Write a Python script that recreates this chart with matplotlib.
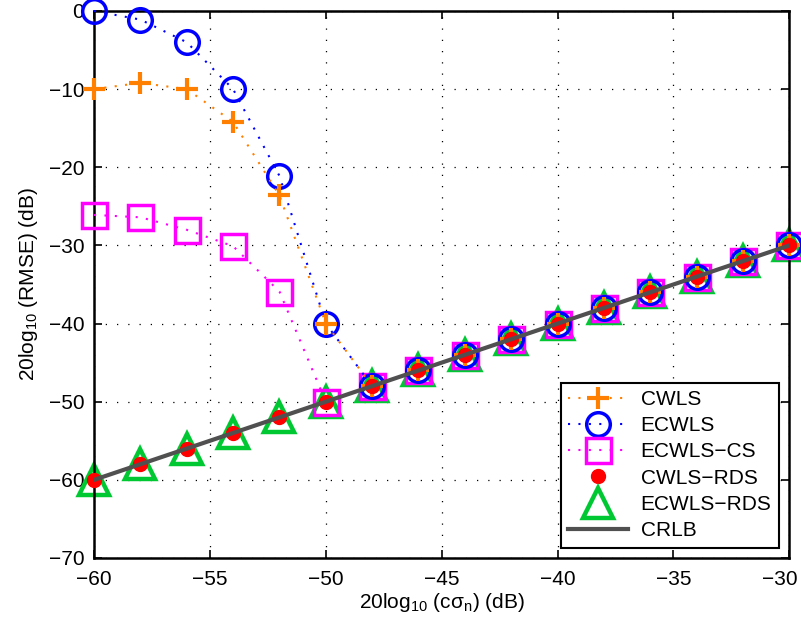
import numpy as np
import matplotlib
matplotlib.use("Agg")
import matplotlib.pyplot as plt
import matplotlib.transforms as mtransforms

plt.rcParams['font.family'] = ['Liberation Sans', 'DejaVu Sans']
plt.rcParams['mathtext.default'] = 'regular'
plt.rcParams['font.size'] = 15

# data
snr = np.arange(-60, -29, 2)
cwls = [-10, -9.2, -10, -14.2, -23.6, -40, -48, -46, -44, -42, -40, -38, -36, -34, -32, -30]
ecwls = [0, -1.1, -4.0, -10, -21.1, -40, -48, -46, -44, -42, -40, -38, -36, -34, -32, -30]
ecwls_cs = [-26.1, -26.4, -28.0, -30.1, -35.9, -50, -48, -46, -44, -42, -40, -38, -36, -34, -32, -30]
cwls_rds = [-60, -58, -56, -54, -52, -50, -48, -46, -44, -42, -40, -38, -36, -34, -32, -30]
ecwls_rds = [-60, -58, -56, -54, -52, -50, -48, -46, -44, -42, -40, -38, -36, -34, -32, -30]
crlb = [-60, -58, -56, -54, -52, -50, -48, -46, -44, -42, -40, -38, -36, -34, -32, -30]

fig = plt.figure(figsize=(8.01, 6.28), dpi=100)
ax = fig.add_axes([0.1174, 0.1115, 0.868, 0.871])

dot = (0, (1, 4))
orange = '#FF8000'
ax.plot(snr, ecwls_rds, linestyle='none', marker='^', ms=21, color='#00C832',
        mfc='none', mew=3.2, label='ECWLS−RDS', zorder=2, clip_on=False)
ax.plot(snr, ecwls_cs, linestyle=dot, lw=1.5, marker='s', ms=18, color='#FF00FF',
        mfc='none', mew=2.5, label='ECWLS−CS', zorder=3, clip_on=False)
ax.plot(snr, ecwls, linestyle=dot, lw=1.5, marker='o', ms=17, color='#0000FF',
        mfc='none', mew=2.5, label='ECWLS', zorder=4, clip_on=False)
ax.plot(snr, cwls, linestyle=dot, lw=1.5, marker='+', ms=16, color=orange,
        mew=3, label='CWLS', zorder=5, clip_on=False)
ax.plot(snr, cwls_rds, linestyle='none', marker='o', ms=10, color='#FF0000',
        label='CWLS−RDS', zorder=6, clip_on=False)
ax.plot(snr, crlb, linestyle='-', lw=3, color='#505050', label='CRLB', zorder=7)

ax.set_xlim(-60, -30)
ax.set_ylim(-70, 0)
ax.set_xticks(np.arange(-60, -29, 5))
ax.set_yticks(np.arange(-70, 1, 10))
ax.grid(True, linestyle=(0, (1, 8)), color='black', lw=0.9)
ax.tick_params(direction='in', top=True, right=True, length=6, width=1.2, labelsize=15)
ax.tick_params(axis='x', pad=9)
ax.tick_params(axis='y', pad=7)
for s in ax.spines.values():
    s.set_linewidth(1.8)

# last x tick label pulled inside the figure, like the original
last = ax.xaxis.get_major_ticks()[-1].label1
last.set_transform(last.get_transform() +
                   mtransforms.ScaledTranslation(-9 / 100, 0, fig.dpi_scale_trans))

ax.set_xlabel('20log$_{10}$ (cσ$_n$) (dB)', fontsize=15, labelpad=1)
ax.set_ylabel('20log$_{10}$ (RMSE) (dB)', fontsize=15, labelpad=6)

h, l = ax.get_legend_handles_labels()
order = ['CWLS', 'ECWLS', 'ECWLS−CS', 'CWLS−RDS', 'ECWLS−RDS', 'CRLB']
hd = dict(zip(l, h))
leg = ax.legend([hd[k] for k in order], order, loc='lower right', fancybox=False,
                framealpha=1, edgecolor='black', fontsize=15, handlelength=2.9,
                handletextpad=0.6, borderaxespad=0.5, borderpad=0.35,
                labelspacing=0.35)
leg.get_frame().set_linewidth(1.5)
leg.set_zorder(10)

fig.savefig('out.png', dpi=100)
